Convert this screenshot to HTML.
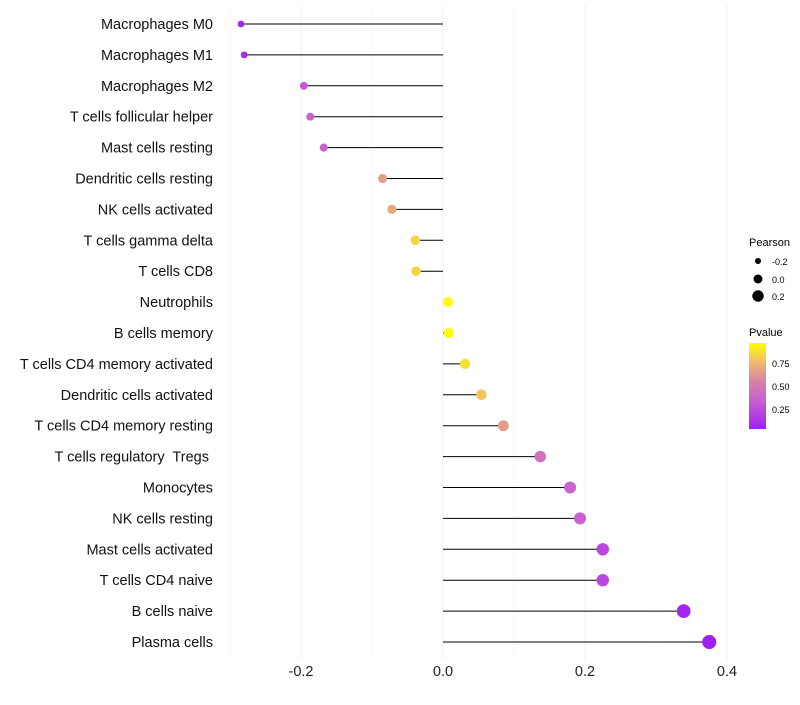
<!DOCTYPE html>
<html><head><meta charset="utf-8"><style>
body{margin:0;background:#fff;font-family:"Liberation Sans",sans-serif;}
text{white-space:pre;}
</style></head><body>
<svg id="chart" width="800" height="700" xmlns="http://www.w3.org/2000/svg" font-family="Liberation Sans, sans-serif">
<defs><linearGradient id="pg" x1="0" y1="1" x2="0" y2="0">
<stop offset="0" stop-color="#A020F0"/><stop offset="0.33" stop-color="#C860D0"/><stop offset="0.55" stop-color="#D880A8"/><stop offset="0.77" stop-color="#F0B870"/><stop offset="1" stop-color="#FFFF00"/></linearGradient></defs>
<g id="grid"></g><g id="marks"></g><g id="labels"></g>
<g>
<text x="749" y="246" font-size="11">Pearson</text>
<circle cx="758" cy="261" r="3"/><text x="772" y="265" font-size="9">-0.2</text>
<circle cx="758" cy="279" r="4.5"/><text x="772" y="283" font-size="9">0.0</text>
<circle cx="758" cy="296" r="5.7"/><text x="772" y="300" font-size="9">0.2</text>
<text x="749" y="336" font-size="11">Pvalue</text>
<rect x="749" y="343" width="17" height="86" fill="url(#pg)"/>
<text x="772" y="367" font-size="9">0.75</text>
<text x="772" y="390" font-size="9">0.50</text>
<text x="772" y="413" font-size="9">0.25</text>
</g>
</svg>
<script>
const cells=["Macrophages M0","Macrophages M1","Macrophages M2","T cells follicular helper","Mast cells resting","Dendritic cells resting","NK cells activated","T cells gamma delta","T cells CD8","Neutrophils","B cells memory","T cells CD4 memory activated","Dendritic cells activated","T cells CD4 memory resting","T cells regulatory  Tregs ","Monocytes","NK cells resting","Mast cells activated","T cells CD4 naive","B cells naive","Plasma cells"];
const pearson=[-0.2845,-0.280,-0.196,-0.187,-0.168,-0.085,-0.072,-0.039,-0.038,0.007,0.008,0.031,0.054,0.085,0.137,0.179,0.193,0.225,0.225,0.339,0.375];
const pvalue=[0.08,0.09,0.3,0.32,0.33,0.62,0.66,0.82,0.82,0.97,0.96,0.86,0.76,0.62,0.42,0.35,0.33,0.22,0.22,0.06,0.04];
const xTicks=[-0.2,0.0,0.2,0.4];
const xTickLabels=["-0.2","0.0","0.2","0.4"];
const NS="http://www.w3.org/2000/svg";
const xs=v=>443+v*710;
const ys=i=>24+i*30.9;
const rs=v=>Math.max(1.8,5+5.5*v);
const stops=[[0.04,[160,32,240]],[0.32,[200,96,208]],[0.51,[216,128,168]],[0.72,[240,184,112]],[0.97,[255,255,0]]];
function col(p){if(p<=stops[0][0])return"rgb("+stops[0][1]+")";for(let k=1;k<stops.length;k++){if(p<=stops[k][0]){const a=stops[k-1],b=stops[k],t=(p-a[0])/(b[0]-a[0]);return"rgb("+a[1].map((c,j)=>Math.round(c+(b[1][j]-c)*t)).join(",")+")";}}return"rgb("+stops[4][1]+")";}
function mk(t,a,p){const e=document.createElementNS(NS,t);for(const k in a)e.setAttribute(k,a[k]);p.appendChild(e);return e;}
const grid=document.getElementById('grid'),marks=document.getElementById('marks'),labels=document.getElementById('labels');
[-0.3,-0.1,0.1,0.3].forEach(v=>{const l=mk('line',{x1:xs(v),x2:xs(v),y1:5,y2:660,stroke:'#f7f7f7','stroke-width':0.6},grid);

});
xTicks.forEach((v,i)=>{const l=mk('line',{x1:xs(v),x2:xs(v),y1:5,y2:660,stroke:'#f0f0f0','stroke-width':1},grid);


const t=mk('text',{x:xs(v),y:676,'font-size':14.5,'text-anchor':'middle',fill:'#222'},labels);t.textContent=xTickLabels[i];

});
cells.forEach((c,i)=>{const y=ys(i);
const l=mk('line',{x1:xs(0),x2:xs(pearson[i]),y1:y,y2:y,stroke:'#000','stroke-width':1},marks);


const d=mk('circle',{cx:xs(pearson[i]),cy:y,r:rs(pearson[i]),fill:col(pvalue[i])},marks);


const t=mk('text',{x:213,y:y+5,'font-size':14.5,'text-anchor':'end',fill:'#111'},labels);t.textContent=c;

});
</script>
</body></html>
